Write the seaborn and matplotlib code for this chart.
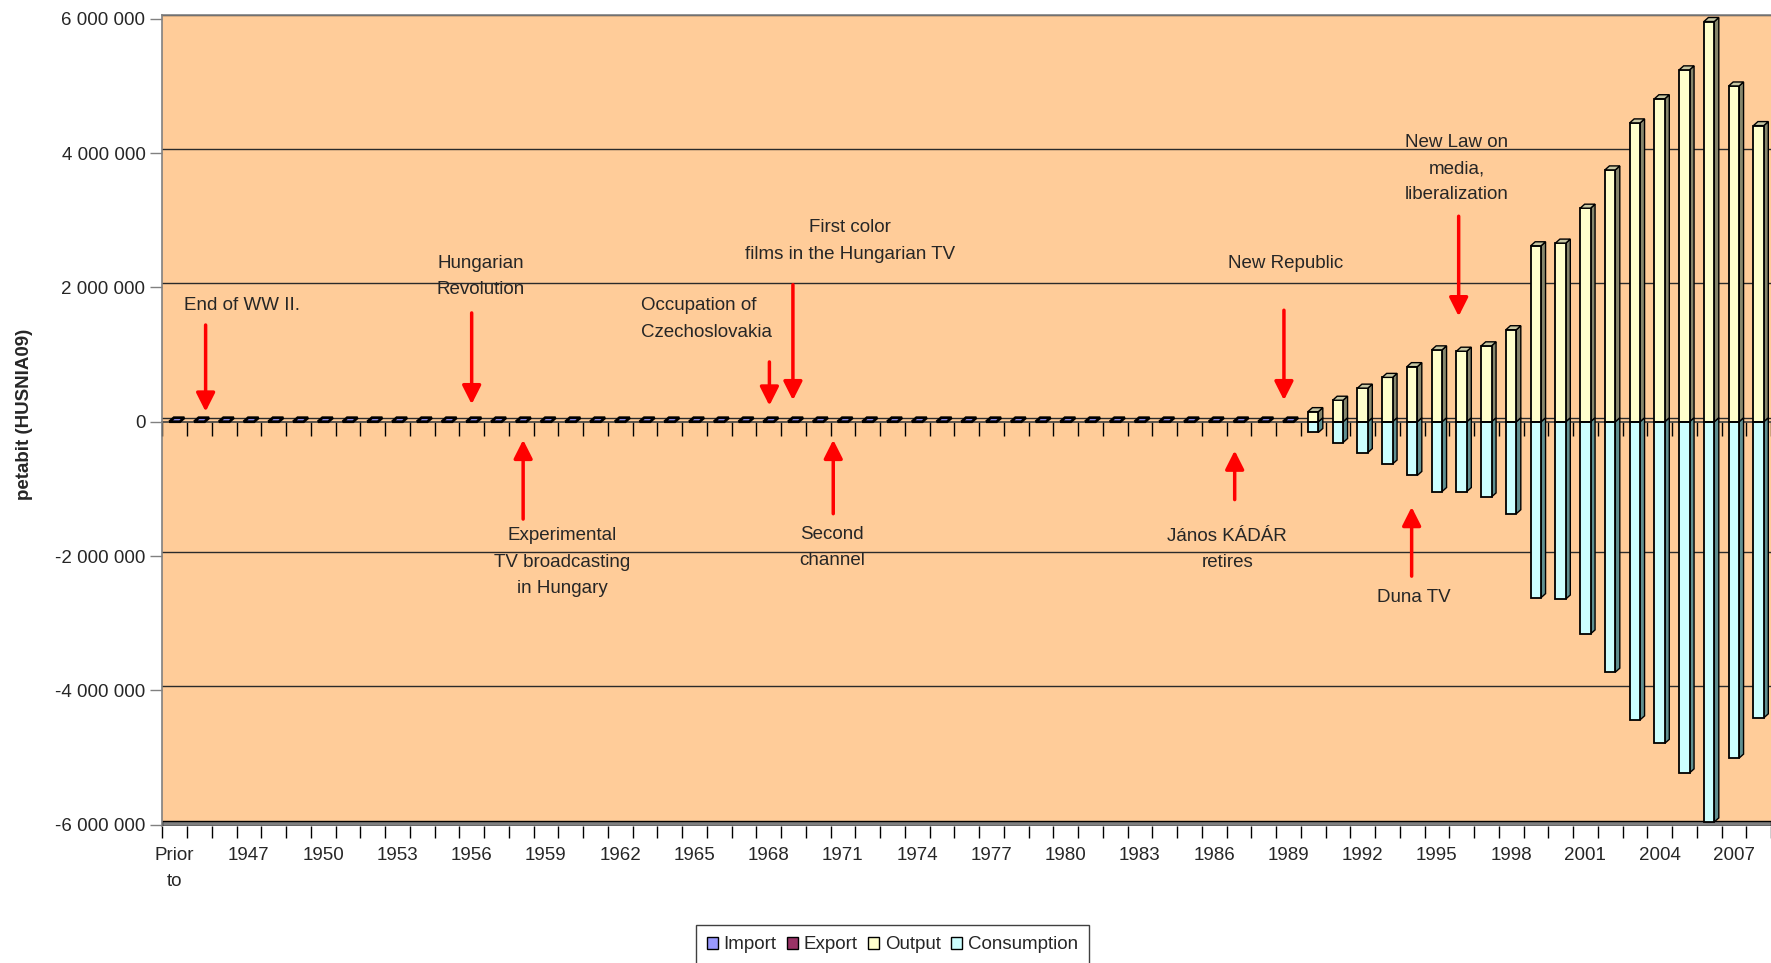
import matplotlib
matplotlib.use("Agg")
import matplotlib.pyplot as plt
import seaborn as sns
import pandas as pd
from matplotlib.patches import Polygon, Patch
from matplotlib.transforms import ScaledTranslation
from matplotlib.ticker import FuncFormatter

# categories: "Prior to", then 1945 ... 2008
categories = ["Prior to"] + [str(y) for y in range(1945, 2009)]

# petabit values (Prior to, 1945-49 / 1950s / 60s / 70s / 80s / 90s / 2000s)
output = [
    0, 0, 0, 0, 0, 0,
    0, 0, 0, 0, 0, 0, 0, 0, 0, 0,
    0, 0, 0, 0, 0, 0, 0, 0, 0, 0,
    0, 0, 0, 0, 0, 0, 0, 0, 0, 0,
    0, 0, 0, 0, 0, 0, 0, 0, 0, 0,
    150000, 320000, 500000, 660000, 820000, 1070000, 1050000, 1130000, 1370000, 2620000,
    2660000, 3180000, 3750000, 4450000, 4810000, 5240000, 5960000, 5000000, 4410000,
]
consumption = [
    0, 0, 0, 0, 0, 0,
    0, 0, 0, 0, 0, 0, 0, 0, 0, 0,
    0, 0, 0, 0, 0, 0, 0, 0, 0, 0,
    0, 0, 0, 0, 0, 0, 0, 0, 0, 0,
    0, 0, 0, 0, 0, 0, 0, 0, 0, 0,
    -160000, -310000, -460000, -630000, -800000, -1040000, -1040000, -1120000, -1370000, -2620000,
    -2640000, -3160000, -3730000, -4440000, -4790000, -5230000, -5960000, -5010000, -4410000,
]
imports = [
    0, 0, 0, 0, 0, 0,
    0, 0, 0, 0, 0, 0, 0, 0, 0, 0,
    0, 0, 0, 0, 0, 0, 0, 0, 0, 0,
    0, 0, 0, 0, 0, 0, 0, 0, 0, 0,
    0, 0, 0, 0, 0, 0, 0, 0, 0, 0,
    0, 0, 0, 0, 0, 0, 0, 0, 0, 0,
    0, 0, 0, 0, 0, 0, 0, 0, 0,
]
exports = [
    0, 0, 0, 0, 0, 0,
    0, 0, 0, 0, 0, 0, 0, 0, 0, 0,
    0, 0, 0, 0, 0, 0, 0, 0, 0, 0,
    0, 0, 0, 0, 0, 0, 0, 0, 0, 0,
    0, 0, 0, 0, 0, 0, 0, 0, 0, 0,
    0, 0, 0, 0, 0, 0, 0, 0, 0, 0,
    0, 0, 0, 0, 0, 0, 0, 0, 0,
]
y_ticks = [-6000000, -4000000, -2000000, 0, 2000000, 4000000, 6000000]

# events: (text, text x, text y, arrow tail x, tail y, head x, head y, alignment)
events = [
    ("End of WW II.", 2.71, 1.73e6, 1.25, 1.44e6, 1.25, 0.15e6, "center"),
    ("Hungarian\nRevolution", 12.35, 2.16e6, 12.0, 1.62e6, 12.0, 0.26e6, "center"),
    ("Experimental\nTV broadcasting\nin Hungary", 15.67, -2.09e6, 14.08, -1.45e6, 14.08, -0.27e6, "center"),
    ("Occupation of\nCzechoslovakia", 18.83, 1.53e6, 24.03, 0.89e6, 24.03, 0.24e6, "left"),
    ("First color\nfilms in the Hungarian TV", 27.27, 2.69e6, 24.98, 2.04e6, 24.98, 0.32e6, "center"),
    ("Second\nchannel", 26.57, -1.87e6, 26.61, -1.37e6, 26.61, -0.27e6, "center"),
    ("New Republic", 44.88, 2.36e6, 44.82, 1.66e6, 44.82, 0.32e6, "center"),
    ("János KÁDÁR\nretires", 42.53, -1.90e6, 42.83, -1.16e6, 42.83, -0.43e6, "center"),
    ("New Law on\nmedia,\nliberalization", 51.8, 3.77e6, 51.88, 3.06e6, 51.88, 1.57e6, "center"),
    ("Duna TV", 50.06, -2.62e6, 49.98, -2.30e6, 49.98, -1.27e6, "center"),
]

C_IMPORT = "#9999ff"
C_EXPORT = "#993366"
C_OUTPUT = "#ffffcc"
C_CONS = "#ccffff"
C_OUT_SIDE = "#86866c"
C_OUT_TOP = "#c8c8a4"
C_CONS_SIDE = "#5f8f90"
BG = "#ffcc99"

sns.set_style("white")
plt.rcParams["font.family"] = ["Liberation Sans", "DejaVu Sans"]
FS = 13.5

df = pd.DataFrame({
    "period": categories,
    "Import": imports,
    "Export": exports,
    "Output": output,
    "Consumption": consumption,
})

W, H = 1771, 963
fig = plt.figure(figsize=(W / 100, H / 100), dpi=100)
ax_left, ax_top, ax_bottom = 162.3, 15, 826
ax = fig.add_axes([ax_left / W, 1 - ax_bottom / H, 1 - ax_left / W, (ax_bottom - ax_top) / H])
ax.set_facecolor(BG)

bar_kw = dict(x="period", order=categories, saturation=1, width=0.42,
              edgecolor="black", linewidth=1.3, errorbar=None, ax=ax, zorder=3)
sns.barplot(data=df, y="Output", color=C_OUTPUT, **bar_kw)
sns.barplot(data=df, y="Consumption", color=C_CONS, **bar_kw)
sns.barplot(data=df, y="Import", color=C_IMPORT, **bar_kw)

ax.set_xlim(-0.5, 64.22)
ax.set_ylim(-6.021e6, 6.057e6)

# pixel depth of the fake 3D look, converted to data units
p0 = ax.transData.transform((0, 0))
p1 = ax.transData.transform((1, 1e6))
dx = 4.5 / (p1[0] - p0[0])
dy = 4 * 1e6 / (p1[1] - p0[1])

cont_out, cont_cons = ax.containers[0], ax.containers[1]
for b_out, b_cons in zip(cont_out, cont_cons):
    xl = b_out.get_x()
    xr = xl + b_out.get_width()
    top = b_out.get_height()
    low = b_cons.get_height()
    if low < 0:
        ax.add_patch(Polygon([(xr, low), (xr + dx, low + dy), (xr + dx, dy), (xr, 0)],
                             closed=True, facecolor=C_CONS_SIDE, edgecolor="black", lw=1.0, zorder=2.9))
    if top > 0:
        ax.add_patch(Polygon([(xr, 0), (xr + dx, dy), (xr + dx, top + dy), (xr, top)],
                             closed=True, facecolor=C_OUT_SIDE, edgecolor="black", lw=1.0, zorder=2.9))
        ax.add_patch(Polygon([(xl, top), (xl + dx, top + dy), (xr + dx, top + dy), (xr, top)],
                             closed=True, facecolor=C_OUT_TOP, edgecolor="black", lw=1.0, zorder=3.1))
    else:
        ax.add_patch(Polygon([(xl, 0), (xl + dx, dy), (xr + dx, dy), (xr, 0)],
                             closed=True, facecolor=C_IMPORT, edgecolor="black", lw=2.0, zorder=3.1))

# back-wall gridlines (shifted up by the depth)
shift = ScaledTranslation(0, 4 / 100, fig.dpi_scale_trans)
for v in y_ticks[1:]:
    ln = ax.axhline(v, color="#2a2a2a", lw=1.0, zorder=1)
    ln.set_transform(ln.get_transform() + shift)

# floor
ax.axhspan(ax.get_ylim()[0], y_ticks[0] + dy, facecolor="#808080", edgecolor="black", lw=1.0, zorder=1.5)

for s in ["right", "bottom"]:
    ax.spines[s].set_visible(False)
ax.spines["left"].set_color("#808080")
ax.spines["top"].set_color("#808080")
ax.spines["left"].set_linewidth(1.2)
ax.spines["top"].set_linewidth(1.2)

# x axis: ticks at category boundaries, labels every third category
bounds = [i - 0.5 for i in range(len(categories) + 1)]
ax.set_xticks(bounds)
ax.set_xticklabels([])
ax.tick_params(axis="x", which="major", length=8.5, width=1, color="black", direction="out", bottom=True)
lab_pos = list(range(0, len(categories), 3))
lab_txt = ["Prior\nto" if categories[i] == "Prior to" else categories[i] for i in lab_pos]
ax.set_xticks(lab_pos, lab_txt, minor=True)
ax.tick_params(axis="x", which="minor", length=0, pad=15, labelsize=FS)
for t in ax.get_xticklabels(minor=True):
    t.set_linespacing(1.7)
ax.set_xlabel("")

# category axis crossing at zero
y0, y1 = ax.get_ylim()
sec = ax.secondary_xaxis((0 - y0) / (y1 - y0))
sec.set_xticks(bounds)
sec.tick_params(axis="x", length=10, width=1, color="black", labelbottom=False, labeltop=False)
sec.spines["bottom"].set_color("#404040")
sec.spines["bottom"].set_linewidth(1.2)

# y axis
ax.set_yticks(y_ticks)
ax.yaxis.set_major_formatter(FuncFormatter(lambda v, _: f"{int(round(v)):,}".replace(",", " ")))
ax.tick_params(axis="y", length=8.6, width=1, color="#808080", direction="out", left=True, pad=3.5, labelsize=FS)
ax.set_ylabel("")
fig.text(25 / W, 1 - 414 / H, "petabit (HUSNIA09)", rotation=90, ha="center", va="center",
         fontsize=FS, fontweight="bold")

# event annotations
for txt, tx, ty, ax0, ay0, hx, hy, al in events:
    ax.text(tx, ty, txt, ha=al, va="center", multialignment=al, fontsize=FS, linespacing=1.72, zorder=6)
    ax.annotate("", xy=(hx, hy), xytext=(ax0, ay0),
                arrowprops=dict(arrowstyle="-|>,head_length=1.13,head_width=0.57", mutation_scale=10,
                                color="red", lw=2.5, shrinkA=0, shrinkB=0), zorder=6)

handles = [Patch(facecolor=c, edgecolor="black", lw=1.0) for c in [C_IMPORT, C_EXPORT, C_OUTPUT, C_CONS]]
leg = fig.legend(handles, ["Import", "Export", "Output", "Consumption"], loc="upper center",
                 bbox_to_anchor=(892.5 / W, 1 - 925 / H), bbox_transform=fig.transFigure, ncol=4,
                 frameon=True, fancybox=False, edgecolor="#404040", framealpha=1, fontsize=FS,
                 handlelength=0.6, handleheight=0.6, handletextpad=0.3, columnspacing=0.55,
                 borderpad=0.6, borderaxespad=0)
leg.get_frame().set_linewidth(1.0)

fig.savefig("out.png", dpi=100)
